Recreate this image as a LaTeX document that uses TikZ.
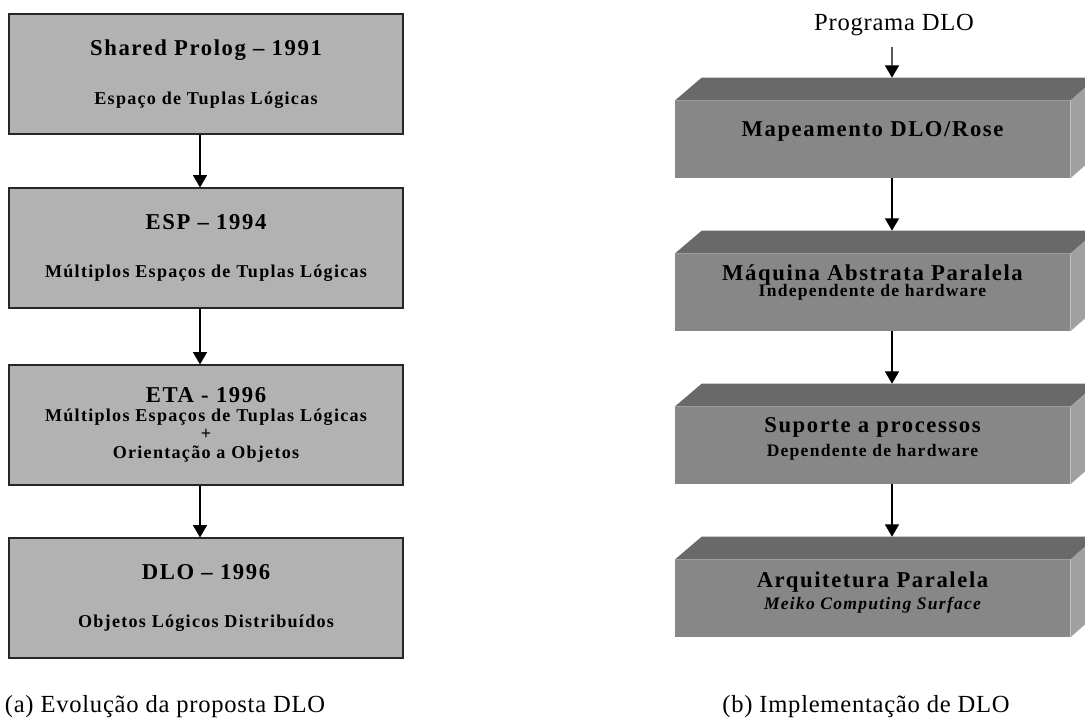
\documentclass[tikz,border=0pt]{standalone}
\usepackage{fontspec}
\setmainfont{Liberation Serif}
\newfontfamily\boxfont[LetterSpace=7]{Liberation Serif}
\newfontfamily\capfont[LetterSpace=3]{Liberation Serif}
\usetikzlibrary{arrows.meta}

\definecolor{evolgray}{HTML}{B2B2B2}
\definecolor{frontgray}{HTML}{878787}
\definecolor{topgray}{HTML}{696969}
\definecolor{sidegray}{HTML}{A0A0A0}

\newcommand{\boxtitle}[1]{{\fontsize{12.9}{12}\selectfont #1}}

\begin{document}
\begin{tikzpicture}[x=0.02cm, y=-0.02cm,
        evol/.style={rectangle, draw=black!85, fill=evolgray, line width=0.7pt,
            minimum width=7.88cm, minimum height=2.4cm, inner sep=0pt, align=center,
            font=\boxfont\bfseries\fontsize{10.3}{12}\selectfont},
        impl/.style={rectangle, fill=frontgray, minimum width=7.9cm, minimum height=1.54cm, inner sep=0pt},
        impltext/.style={align=center, inner sep=0pt, font=\boxfont\bfseries\fontsize{10}{12}\selectfont},
        arrow/.style={-{Triangle[width=8pt,length=7pt]}, line width=0.7pt}]
    \clip (0,0) rectangle (1085,727);

    % (a) evolucao
    \node[evol] (shared) at (206,74) {\boxtitle{Shared Prolog – 1991}\\[15.5pt]Espaço de Tuplas Lógicas};
    \node[evol] (esp) at (206,248) {\boxtitle{ESP – 1994}\\[15.5pt]Múltiplos Espaços de Tuplas Lógicas};
    \node[evol, font=\boxfont\bfseries\fontsize{10.3}{10.5}\selectfont] (eta) at (206,425)
        {\boxtitle{ETA - 1996}\\Múltiplos Espaços de Tuplas Lógicas\\+\\Orientação a Objetos};
    \node[evol] (dlo) at (206,598) {\boxtitle{DLO – 1996}\\[15.5pt]Objetos Lógicos Distribuídos};
    \draw[arrow] ([xshift=-0.12cm]shared.south) -- ([xshift=-0.12cm]esp.north);
    \draw[arrow] ([xshift=-0.12cm]esp.south) -- ([xshift=-0.12cm]eta.north);
    \draw[arrow] ([xshift=-0.12cm]eta.south) -- ([xshift=-0.12cm]dlo.north);

    % (b) implementacao
    \node[impl] (mapa) at (872.5,139.5) {};
    \node[impl] (maquina) at (872.5,292.5) {};
    \node[impl] (suporte) at (872.5,445.5) {};
    \node[impl] (arq) at (872.5,598.5) {};
    \foreach \b in {mapa,maquina,suporte,arq} {
        \fill[topgray] (\b.north west) -- ++(27,-23) -- ++(395,0) -- (\b.north east) -- cycle;
        \fill[sidegray] (\b.north east) -- ++(27,-23) -- ++(0,77) -- (\b.south east) -- cycle;
        \coordinate (\b top) at ([xshift=0.39cm, yshift=0.46cm]\b.north);
    }
    \node[impltext] (mapatxt) at ([yshift=0.16cm]mapa) {\boxtitle{Mapeamento DLO/Rose}};
    \node[impltext] (maquinatxt) at ([yshift=0.2cm]maquina) {\boxtitle{Máquina Abstrata Paralela}\\[-2.5pt]Independente de hardware};
    \node[impltext] (suportetxt) at ([yshift=0.13cm]suporte) {\boxtitle{Suporte a processos}\\[1.6pt]Dependente de hardware};
    \node[impltext] (arqtxt) at ([yshift=0.12cm]arq) {\boxtitle{Arquitetura Paralela}\\[1pt]\itshape Meiko Computing Surface};

    \node[font=\capfont\fontsize{14}{14}\selectfont] (prog) at (894,25) {Programa DLO};
    \coordinate (start) at (892,47);
    \draw[arrow] (start) -- (mapatop);
    \draw[arrow] ([xshift=0.39cm]mapa.south) -- (maquinatop);
    \draw[arrow] ([xshift=0.39cm]maquina.south) -- (suportetop);
    \draw[arrow] ([xshift=0.39cm]suporte.south) -- (arqtop);

    % legendas
    \node[font=\capfont\fontsize{14}{14}\selectfont] (capa) at (165,707) {(a) Evolução da proposta DLO};
    \node[font=\capfont\fontsize{14}{14}\selectfont] (capb) at (866,707) {(b) Implementação de DLO};
\end{tikzpicture}
\end{document}
